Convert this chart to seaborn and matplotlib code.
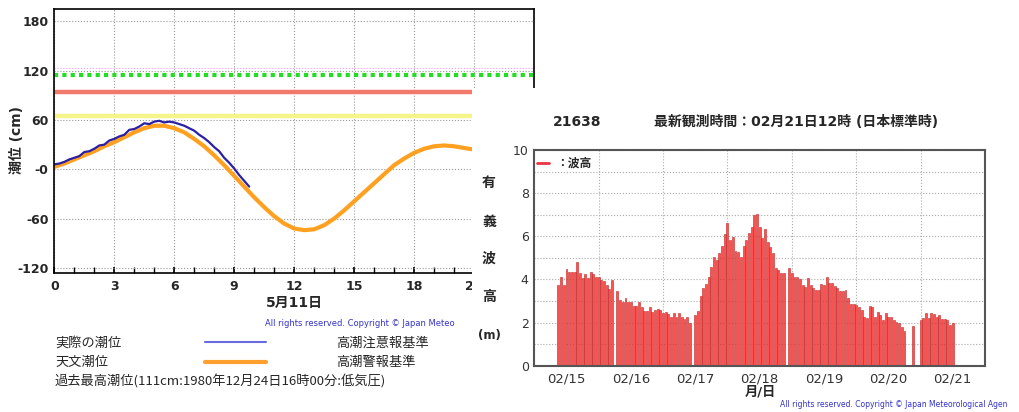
import numpy as np
import pandas as pd
import matplotlib
matplotlib.use('Agg')
import matplotlib.pyplot as plt
from matplotlib.patches import Rectangle
from matplotlib.lines import Line2D
import seaborn as sns

# --- 潮位 (5月11日) ---
tide_hours = np.arange(0, 21.5, 0.5)
tide_astro = [3, 7, 12, 17, 22, 28, 33, 39, 45, 50, 53, 53, 50, 45, 37, 28, 17, 5,
              -8, -21, -34, -46, -57, -66, -72, -74, -73, -68, -60, -50, -39, -28,
              -17, -6, 5, 13, 20, 25, 28, 29, 28, 26, 24]
obs_hours = np.arange(0, 9.8, 0.25)
tide_obs = [6, 7, 9, 12, 14, 16, 21, 22, 25, 29, 30, 35, 37, 40, 42, 48, 49, 52, 56, 55,
            58, 59, 57, 58, 57, 55, 53, 50, 47, 42, 38, 33, 27, 22, 14, 8, 1, -7, -14, -21]
caution_level = 65
warning_level = 94
record_level = 115
pink_level = 123
tide_xticks = [0, 3, 6, 9, 12, 15, 18, 21]
tide_yticks = [-120, -60, 0, 60, 120, 180]
tide_ylabels = ['-120', '-60', '-0', '60', '120', '180']

# --- 有義波高 21638 ---
wave_hours = np.arange(-3, 145)
wave_height = [3.74, 4.13, 3.74, 4.47, 4.34, 4.34, 4.34, 4.82, 4.28, 4.05, 4.25, 4.05, 4.33,
               4.25, 4.13, 4.13, 3.97, 3.93, 3.74, 3.54, 3.97,
               np.nan,
               3.46, 3.05, 2.97, 3.12, 2.97, 2.94, 2.78, 2.78, 2.97, 2.74, 2.55, 2.55, 2.74,
               2.50, 2.58, 2.61, 2.58, 2.46, 2.50, 2.38, 2.27, 2.46, 2.27, 2.46, 2.27, 2.15,
               2.24, 1.96,
               np.nan,
               2.35, 2.53, 3.25, 3.59, 3.77, 4.13, 4.59, 5.02, 4.90, 5.21, 5.55, 6.09, 6.63,
               5.83, 5.98, 5.33, 5.29, 5.05, 5.55, 5.83, 6.14, 6.41, 6.99, 7.03, 6.45, 5.90,
               6.32, 5.75, 5.52, 5.24, 4.51, 4.44, 4.28, 4.31,
               np.nan,
               4.51, 4.28, 4.13, 4.13, 4.00, 3.74, 3.66, 4.05, 3.74, 3.62, 3.51, 3.51, 3.79,
               3.74, 4.13, 3.85, 3.82, 3.69, 3.59, 3.48, 3.48, 3.51, 3.12, 2.86, 2.84, 2.81,
               2.74, 2.58, 2.27, 2.19, 2.77, 2.74, 2.27, 2.50, 2.35, 2.12, 2.43, 2.27, 2.24,
               2.12, 2.04, 1.96, 1.81, 1.62,
               np.nan, np.nan,
               1.84,
               np.nan, np.nan,
               2.12, 2.19, 2.46, 2.19, 2.46, 2.40, 2.27, 2.35, 2.15, 2.15, 2.12, 1.89, 1.96]
date_ticks = [0, 24, 48, 72, 96, 120, 144]
date_labels = ['02/15', '02/16', '02/17', '02/18', '02/19', '02/20', '02/21']

sns.set_theme(style='white')
plt.rcParams['font.family'] = ['DejaVu Sans', 'Noto Sans CJK JP']

W, H = 1020, 412
fig = plt.figure(figsize=(W / 100, H / 100), dpi=100)

# ---------------- 左: 潮位グラフ ----------------
ax1 = fig.add_axes([54.3 / W, 1 - 273.3 / H, 479.7 / W, 264.3 / H])
ax1.set_zorder(0)
ax1.axhline(pink_level, color='#ff99ff', lw=0.8, ls=':')
ax1.axhline(record_level, color='#22dd22', lw=3, ls=(0, (1, 1)))
ax1.axhline(warning_level, color='#f27a6c', lw=3.2)
ax1.axhline(caution_level, color='#f5f58a', lw=3.2)
sns.lineplot(x=tide_hours, y=tide_astro, ax=ax1, color='#ffa020', lw=3)
sns.lineplot(x=obs_hours, y=tide_obs, ax=ax1, color='#2b1fa5', lw=1.6)
ax1.set_xlim(0, 24)
ax1.set_ylim(-126.5, 195)
ax1.set_xticks(tide_xticks)
ax1.set_xticklabels([str(t) for t in tide_xticks], fontweight='bold', fontsize=9)
ax1.set_xticks(range(0, 25), minor=True)
ax1.set_yticks(tide_yticks)
ax1.set_yticklabels(tide_ylabels, fontweight='bold', fontsize=9)
ax1.tick_params(axis='x', which='both', direction='in', bottom=True, length=4, pad=5, color='black')
ax1.tick_params(axis='y', length=0, pad=4)
ax1.grid(True, which='major', ls=':', color='#999999', lw=0.8)
ax1.set_xlabel('')
ax1.set_ylabel('')
for s in ax1.spines.values():
    s.set_color('black')
    s.set_linewidth(1.2)
# 右のグラフに隠れて途中までしか見えない
ax1.text(265 / W, 1 - 323 / H, 'All rights reserved. Copyright © Japan Meteo',
         transform=fig.transFigure, fontsize=6, color='#3333cc', va='center', clip_on=False)

fig.text(17 / W, 1 - 140 / H, '潮位 (cm)', rotation=90, ha='center', va='center',
         fontsize=10, fontweight='bold')
fig.text(294 / W, 1 - 303 / H, '5月11日', ha='center', va='center', fontsize=10, fontweight='bold')

cjk = ['Noto Sans CJK JP', 'DejaVu Sans']
fig.text(55 / W, 1 - 343 / H, '実際の潮位', va='center', fontsize=9.5, family=cjk)
fig.text(55 / W, 1 - 362.5 / H, '天文潮位', va='center', fontsize=9.5, family=cjk)
fig.text(55 / W, 1 - 382 / H, '過去最高潮位(111cm:1980年12月24日16時00分:低気圧)',
         va='center', fontsize=9.5, family=cjk)
fig.text(336 / W, 1 - 343 / H, '高潮注意報基準', va='center', fontsize=9.5, family=cjk)
fig.text(336 / W, 1 - 362.5 / H, '高潮警報基準', va='center', fontsize=9.5, family=cjk)
fig.add_artist(Line2D([205 / W, 266 / W], [1 - 342 / H] * 2, transform=fig.transFigure,
                      color='#6868e0', lw=1.5))
fig.add_artist(Line2D([205 / W, 266 / W], [1 - 362 / H] * 2, transform=fig.transFigure,
                      color='#ffa030', lw=3))

# 右のグラフの白い下地
fig.add_artist(Rectangle((472 / W, 0), 1 - 472 / W, (H - 88) / H, transform=fig.transFigure,
                         facecolor='white', edgecolor='none', zorder=1))

# ---------------- 右: 有義波高グラフ ----------------
ax2 = fig.add_axes([534.3 / W, 1 - 365.7 / H, 450.7 / W, 215.7 / H])
ax2.set_zorder(2)
df = pd.DataFrame({'hour': wave_hours, 'height': wave_height}).dropna()
sns.barplot(data=df, x='hour', y='height', native_scale=True, color='#ff5050', saturation=1,
            edgecolor='#c42424', linewidth=0.4, width=0.72, errorbar=None, ax=ax2)
ax2.set_xlim(-12, 156)
ax2.set_ylim(0, 10)
ax2.set_xticks(date_ticks)
ax2.set_xticklabels(date_labels, fontsize=9.5, color='#333333')
ax2.set_xticks(np.arange(12, 156, 24), minor=True)
ax2.set_yticks([0, 2, 4, 6, 8, 10])
ax2.set_yticklabels(['0', '2', '4', '6', '8', '10'], fontsize=9, color='#333333')
ax2.set_yticks(np.arange(1, 10, 2), minor=True)
ax2.tick_params(which='both', length=0)
ax2.tick_params(axis='x', pad=5)
ax2.tick_params(axis='y', pad=4)
ax2.grid(False)
ax2.xaxis.grid(True, which='minor', ls=':', color='#aaaaaa', lw=0.8)
ax2.yaxis.grid(True, which='both', ls=':', color='#aaaaaa', lw=0.8)
ax2.set_axisbelow(True)
ax2.set_xlabel('')
ax2.set_ylabel('')
for s in ax2.spines.values():
    s.set_color('#555555')
    s.set_linewidth(1.5)
ax2.add_line(Line2D([0.006, 0.033], [0.941, 0.941], transform=ax2.transAxes,
                    color='#ee3344', lw=2))
ax2.text(0.048, 0.941, '：波高', transform=ax2.transAxes, va='center', fontsize=8.5,
         fontweight='bold', family=cjk)

fig.text(577 / W, 1 - 122 / H, '21638', ha='center', va='center', fontsize=10, fontweight='bold')
fig.text(796 / W, 1 - 122 / H, '最新観測時間：02月21日12時 (日本標準時)', ha='center',
         va='center', fontsize=10, fontweight='bold')
for ch, yy in [('有', 183), ('義', 222), ('波', 259), ('高', 297)]:
    fig.text(489 / W, 1 - yy / H, ch, ha='center', va='center', fontsize=10, fontweight='bold')
fig.text(489 / W, 1 - 335 / H, '(m)', ha='center', va='center', fontsize=8.5, fontweight='bold')
fig.text(760 / W, 1 - 392 / H, '月/日', ha='center', va='center', fontsize=9.5, fontweight='bold')
fig.text(780 / W, 1 - 404.5 / H, 'All rights reserved. Copyright © Japan Meteorological Agen',
         va='center', fontsize=5.5, color='#3333cc')

fig.savefig('out.png', dpi=100)
